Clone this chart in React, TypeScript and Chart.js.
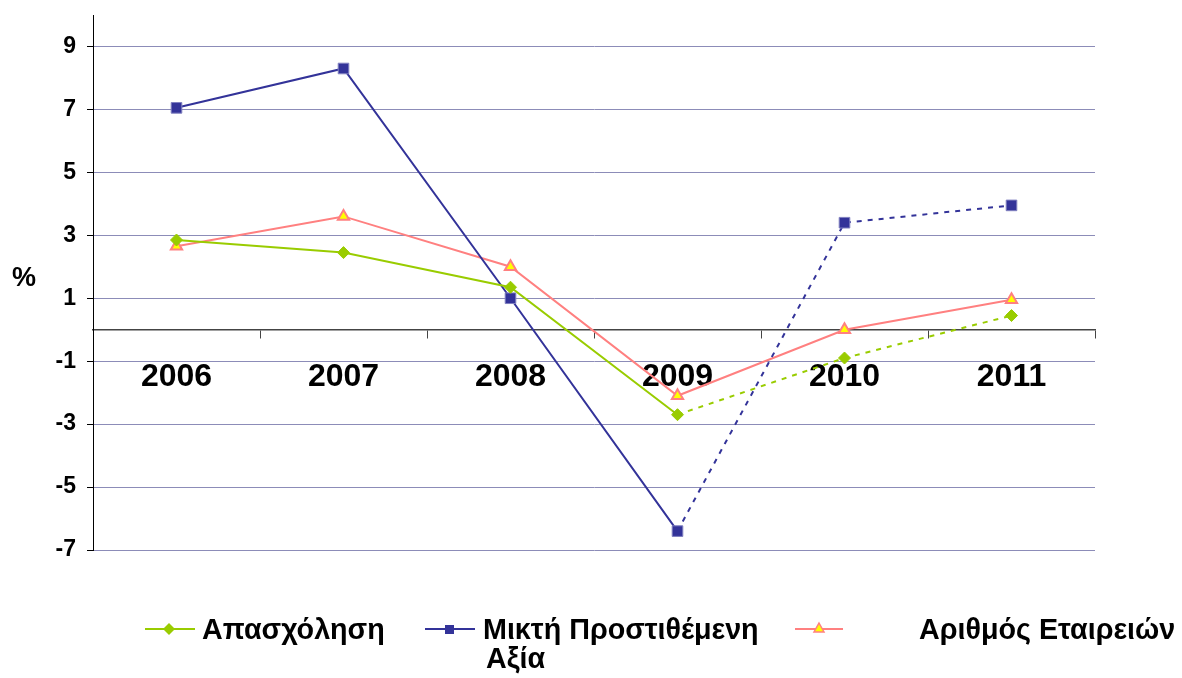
import React, { useEffect, useRef } from "react";
import { Chart, registerables } from "chart.js";

Chart.register(...registerables);

const years = ["2006", "2007", "2008", "2009", "2010", "2011"];
const employment = [2.85, 2.45, 1.35, -2.7, -0.9, 0.45];
const grossValueAdded = [7.05, 8.3, 1.0, -6.4, 3.4, 3.95];
const firms = [2.65, 3.6, 2.0, -2.1, 0.0, 0.95];
const yTicks = [-7, -5, -3, -1, 1, 3, 5, 7, 9];
const dashedFromIndex = 3; // segments starting at 2009 are dashed (estimates)

const seriesNames = ["Απασχόληση", "Μικτή Προστιθέμενη Αξία", "Αριθμός Εταιρειών"];

const GREEN = "#99cc00";
const BLUE = "#333399";
const PINK = "#ff8080";
const YELLOW = "#ffff00";
const FONT = "'Liberation Sans', Arial, Helvetica, sans-serif";

export default function App() {
  const canvasRef = useRef<HTMLCanvasElement | null>(null);

  useEffect(() => {
    const canvas = canvasRef.current;
    if (!canvas) return;
    const dash = (ctx: any) => (ctx.p0DataIndex >= dashedFromIndex ? [5, 6] : undefined);
    const chart = new Chart(canvas, {
      type: "line",
      data: {
        labels: years,
        datasets: [
          {
            label: seriesNames[0],
            data: employment,
            borderColor: GREEN,
            backgroundColor: GREEN,
            borderWidth: 2,
            pointStyle: "rectRot",
            pointRadius: 6,
            pointBackgroundColor: GREEN,
            pointBorderColor: GREEN,
            pointBorderWidth: 1,
            tension: 0,
            segment: { borderDash: dash },
          },
          {
            label: seriesNames[1],
            data: grossValueAdded,
            borderColor: BLUE,
            backgroundColor: BLUE,
            borderWidth: 2,
            pointStyle: "rect",
            pointRadius: 7.5,
            pointBackgroundColor: BLUE,
            pointBorderColor: "#8080c0",
            pointBorderWidth: 1,
            tension: 0,
            segment: { borderDash: dash },
          },
          {
            label: seriesNames[2],
            data: firms,
            borderColor: PINK,
            backgroundColor: YELLOW,
            borderWidth: 2,
            pointStyle: "triangle",
            pointRadius: 6.5,
            pointBackgroundColor: YELLOW,
            pointBorderColor: PINK,
            pointBorderWidth: 2,
            tension: 0,
          },
        ],
      },
      options: {
        responsive: false,
        animation: false,
        devicePixelRatio: 1,
        layout: { padding: { left: 0, right: 87, top: 15, bottom: 128 } },
        plugins: {
          legend: { display: false },
          tooltip: { enabled: false },
        },
        scales: {
          x: {
            type: "category",
            position: { y: 0 } as any,
            offset: true,
            grid: {
              offset: true,
              drawOnChartArea: false,
              tickLength: 8,
              color: "#444444",
              lineWidth: 1,
            },
            border: { color: "#444444", width: 1.5 },
            ticks: {
              color: "#000",
              padding: 20,
              font: { family: FONT, size: 32, weight: "bold" },
              maxRotation: 0,
            },
            afterFit: (s: any) => {
              s.height = 0;
              s.paddingLeft = 0;
              s.paddingRight = 0;
            },
          },
          y: {
            min: -7,
            max: 10,
            afterBuildTicks: (s: any) => {
              s.ticks = yTicks.map((v) => ({ value: v }));
            },
            afterFit: (s: any) => {
              s.width = 93;
              s.paddingTop = 0;
              s.paddingBottom = 0;
            },
            grid: {
              color: "#8c8cb8",
              lineWidth: 1,
              tickLength: 6,
              tickColor: "#000",
            },
            border: { color: "#000", width: 1 },
            ticks: {
              color: "#000",
              padding: 11,
              font: { family: FONT, size: 23, weight: "bold" },
            },
          },
        },
      },
    });
    return () => chart.destroy();
  }, []);

  const textStyle: React.CSSProperties = {
    position: "absolute",
    fontFamily: FONT,
    fontWeight: "bold",
    fontSize: 28.7,
    lineHeight: "30px",
    color: "#000",
    whiteSpace: "nowrap",
    margin: 0,
  };

  return (
    <div
      style={{
        position: "fixed",
        left: 0,
        top: 0,
        width: 1182,
        height: 678,
        background: "#fff",
        overflow: "hidden",
      }}
    >
      <canvas ref={canvasRef} width={1182} height={678} style={{ display: "block" }} />
      <div style={{ ...textStyle, left: 12, top: 262, fontSize: 27 }}>%</div>

      <svg style={{ position: "absolute", left: 145, top: 619 }} width={50} height={20}>
        <line x1={0} y1={10} x2={50} y2={10} stroke={GREEN} strokeWidth={2} />
        <polygon points="24,4 30,10 24,16 18,10" fill={GREEN} />
      </svg>
      <div style={{ ...textStyle, left: 202, top: 614 }}>{seriesNames[0]}</div>

      <svg style={{ position: "absolute", left: 425, top: 619 }} width={50} height={20}>
        <line x1={0} y1={10} x2={50} y2={10} stroke={BLUE} strokeWidth={2} />
        <rect x={20} y={6} width={9} height={9} fill={BLUE} />
      </svg>
      <div style={{ ...textStyle, left: 483, top: 614 }}>Μικτή Προστιθέμενη</div>
      <div style={{ ...textStyle, left: 486, top: 643 }}>Αξία</div>

      <svg style={{ position: "absolute", left: 795, top: 619 }} width={50} height={20}>
        <line x1={0} y1={10} x2={48} y2={10} stroke={PINK} strokeWidth={2} />
        <polygon points="24,4 29,13 19,13" fill={YELLOW} stroke={PINK} strokeWidth={1.5} />
      </svg>
      <div style={{ ...textStyle, left: 919, top: 614 }}>{seriesNames[2]}</div>
    </div>
  );
}
